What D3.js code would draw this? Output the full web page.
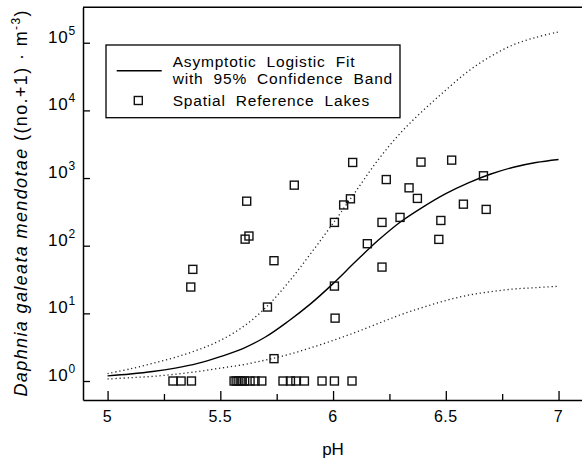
<!DOCTYPE html>
<html>
<head>
<meta charset="utf-8">
<script src="https://cdn.jsdelivr.net/npm/d3@7"></script>
<style>
  body { margin: 0; background: #fff; }
  svg { display: block; }
  text { font-family: "Liberation Sans", Arial, sans-serif; fill: #000; }
</style>
</head>
<body>
<svg id="chart" width="582" height="462"></svg>
<script>
// pH grid on which the fitted curve and its confidence band are tabulated
const phGrid = [5.0, 5.1, 5.2, 5.3, 5.4, 5.5, 5.6, 5.7, 5.8, 5.9, 6.0,
                6.1, 6.2, 6.3, 6.4, 6.5, 6.6, 6.7, 6.8, 6.9, 7.0];
// Asymptotic logistic fit, (no.+1) per m^3
const fitValues = [1.19, 1.27, 1.38, 1.55, 1.82, 2.29, 3.02, 4.47, 7.59, 13.8, 27.5,
                   58.2, 120, 226, 376, 589, 851, 1148, 1445, 1698, 1884];
// Upper and lower 95% confidence limits
const upperBand = [1.29, 1.51, 1.82, 2.24, 2.88, 3.98, 6.31, 12.0, 28.2, 75.9, 214,
                   631, 1862, 4677, 10000, 19950, 38020, 63100, 93300, 120200, 144500];
const lowerBand = [1.07, 1.12, 1.17, 1.26, 1.38, 1.55, 1.74, 2.04, 2.45, 3.09, 3.98,
                   5.25, 7.08, 9.55, 12.3, 15.5, 18.6, 20.9, 22.9, 24.0, 25.1];

// Spatial reference lakes: pH and density ((no.+1) per m^3)
const lakePH = [
  5.290, 5.326, 5.372,
  5.561, 5.570, 5.579, 5.588, 5.596, 5.608, 5.632, 5.654, 5.684,
  5.778, 5.811, 5.835, 5.873,
  5.951, 6.006, 6.084,
  5.369, 5.378, 5.610, 5.617, 5.627, 5.709, 5.738, 5.738, 5.828,
  6.006, 6.006, 6.009, 6.047, 6.077, 6.087, 6.152, 6.217, 6.217,
  6.236, 6.297, 6.337, 6.374, 6.390, 6.469, 6.478, 6.526, 6.578,
  6.667, 6.679
];
const lakeDensity = [
  1, 1, 1,
  1, 1, 1, 1, 1, 1, 1, 1, 1,
  1, 1, 1, 1,
  1, 1, 1,
  24.5, 44.7, 125, 455, 139, 12.4, 60, 2.14, 785,
  221, 25.3, 8.5, 400, 493, 1700, 107, 221, 48.3,
  950, 262, 717, 500, 1720, 124, 236, 1840, 411,
  1080, 344
];

const xTicks = [5, 5.5, 6, 6.5, 7];
const xTickLabels = ["5", "5.5", "6", "6.5", "7"];
const xMinorTicks = [5.25, 5.75, 6.25, 6.75];
const yTickExponents = [0, 1, 2, 3, 4, 5];

const legendLines = ["Asymptotic Logistic Fit", "with 95% Confidence Band", "Spatial Reference Lakes"];

const svg = d3.select("#chart");
svg.append("rect").attr("width", 582).attr("height", 462).attr("fill", "#fff");

const x = d3.scaleLinear().domain([4.891, 7.104]).range([83, 582]);
const y = d3.scaleLog().domain([0.524, 334000]).range([400, 7.3]);

// Axes with inward ticks
svg.append("g").attr("transform", "translate(0,400)")
  .call(d3.axisBottom(x).tickValues(xTicks).tickSizeInner(-9).tickSizeOuter(0).tickFormat(""));
svg.append("g").attr("transform", "translate(0,400)")
  .call(d3.axisBottom(x).tickValues(xMinorTicks).tickSizeInner(-6).tickSizeOuter(0).tickFormat(""))
  .select(".domain").remove();
svg.append("g").attr("transform", "translate(83,0)")
  .call(d3.axisLeft(y).tickValues(yTickExponents.map(e => Math.pow(10, e)))
    .tickSizeInner(-7).tickSizeOuter(0).tickFormat(""));
svg.selectAll(".domain").attr("stroke", "#000").attr("stroke-width", 1.5);
svg.selectAll(".tick line").attr("stroke", "#000").attr("stroke-width", 1.3);

// top frame line
svg.append("line")
  .attr("x1", x.range()[0]).attr("x2", x.range()[1])
  .attr("y1", y.range()[1]).attr("y2", y.range()[1])
  .attr("stroke", "#000").attr("stroke-width", 1.5);

// X tick labels
svg.append("g").selectAll("text").data(xTicks).join("text")
  .attr("x", d => x(d)).attr("y", 422)
  .attr("text-anchor", "middle")
  .attr("font-size", 16).attr("letter-spacing", 0.5)
  .text((d, i) => xTickLabels[i]);

// Y tick labels: 10 with superscript exponent
const yl = svg.append("g").selectAll("text").data(yTickExponents).join("text")
  .attr("x", 76).attr("y", d => y(Math.pow(10, d)))
  .attr("text-anchor", "end")
  .attr("font-size", 17).attr("letter-spacing", 0.8);
yl.append("tspan").text("10");
yl.append("tspan").attr("dy", -8).attr("font-size", 12).text(d => d);

// Axis titles
svg.append("text").attr("x", 333).attr("y", 455)
  .attr("text-anchor", "middle").attr("font-size", 17).text("pH");

const yTitle = svg.append("text")
  .attr("transform", "translate(27,203.5) rotate(-90)")
  .attr("text-anchor", "middle").attr("font-size", 18)
  .attr("textLength", 386).attr("lengthAdjust", "spacing");
yTitle.append("tspan").attr("font-style", "italic").text("Daphnia galeata mendotae");
yTitle.append("tspan").text(" ((no.+1) \u00B7 m");
yTitle.append("tspan").attr("dy", -7).attr("font-size", 12).text("-3");
yTitle.append("tspan").attr("dy", 7).text(")");

// Curves
svg.append("clipPath").attr("id", "plotClip")
  .append("rect").attr("x", 83).attr("y", 7.3).attr("width", 499).attr("height", 392.7);

const line = d3.line()
  .x((d, i) => x(phGrid[i]))
  .y(d => y(d))
  .curve(d3.curveCatmullRom.alpha(0.5));

const curves = svg.append("g").attr("clip-path", "url(#plotClip)");
[upperBand, lowerBand].forEach(band => {
  curves.append("path").datum(band)
    .attr("d", line).attr("fill", "none")
    .attr("stroke", "#222").attr("stroke-width", 1.3)
    .attr("stroke-dasharray", "1.2 2.8");
});
curves.append("path").datum(fitValues)
  .attr("d", line).attr("fill", "none")
  .attr("stroke", "#000").attr("stroke-width", 1.4);

// Lake observations
const s = 8;
svg.append("g").selectAll("rect").data(lakePH).join("rect")
  .attr("x", d => x(d) - s / 2)
  .attr("y", (d, i) => y(lakeDensity[i]) - s / 2)
  .attr("width", s).attr("height", s)
  .attr("fill", "none").attr("stroke", "#111").attr("stroke-width", 1.4);

// Legend
const lg = svg.append("g");
lg.append("rect").attr("x", 106).attr("y", 45).attr("width", 294).attr("height", 72.7)
  .attr("fill", "#fff").attr("stroke", "#000").attr("stroke-width", 1.3);
lg.append("line").attr("x1", 116.7).attr("x2", 161.7).attr("y1", 70.7).attr("y2", 70.7)
  .attr("stroke", "#000").attr("stroke-width", 1.4);
lg.append("rect").attr("x", 138.3 - s / 2).attr("y", 100.5 - s / 2).attr("width", s).attr("height", s)
  .attr("fill", "none").attr("stroke", "#111").attr("stroke-width", 1.4);
lg.selectAll("text.leg").data(legendLines).join("text")
  .attr("class", "leg")
  .attr("x", 172.7)
  .attr("y", (d, i) => [67.3, 84, 106][i])
  .attr("font-size", 15.5).attr("letter-spacing", 0.8).attr("word-spacing", 5)
  .text(d => d);
</script>
</body>
</html>
